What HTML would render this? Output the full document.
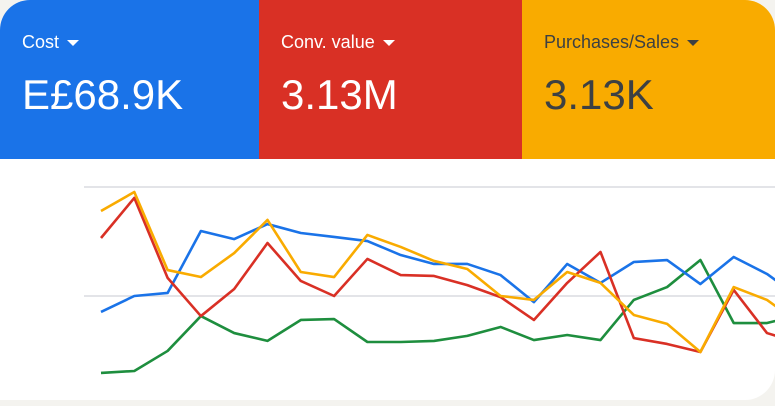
<!DOCTYPE html>
<html><head><meta charset="utf-8"><style>
body{margin:0;width:775px;height:406px;background:#f4f3ef;overflow:hidden;font-family:"Liberation Sans",sans-serif}
#card{position:absolute;left:0;top:0;width:775px;height:400px;background:#fff;border-radius:30px 30px 30px 0;overflow:hidden}
.tile{position:absolute;top:0;height:159px}
.lab{position:absolute;left:22px;top:32px;font-size:18px}
.val{position:absolute;left:22px;top:71px;font-size:42px}
.arr{display:inline-block;width:0;height:0;border-left:6px solid transparent;border-right:6px solid transparent;border-top:6px solid currentColor;margin-left:8px;vertical-align:middle}
</style></head><body>
<div id="card">
<div class="tile" style="left:0;width:259px;background:#1a73e8;color:#fff"><div class="lab">Cost<span class="arr"></span></div><div class="val">E£68.9K</div></div>
<div class="tile" style="left:259px;width:263px;background:#d93025;color:#fff"><div class="lab">Conv. value<span class="arr"></span></div><div class="val">3.13M</div></div>
<div class="tile" style="left:522px;width:253px;background:#f9ab00;color:#3c4043"><div class="lab">Purchases/Sales<span class="arr"></span></div><div class="val">3.13K</div></div>
<svg id="chart" width="775" height="400" style="position:absolute;left:0;top:0"></svg>
</div>
<script>
const gridValues=[50,100];
const blue=[42.7,50,51.4,79.8,76.1,83.0,78.9,77.1,75.2,68.8,64.7,64.7,59.6,47.2,64.7,56.0,65.6,66.5,55.5,67.9,60.1,49.1];
const yellow=[89.0,97.7,61.9,58.7,69.7,84.9,61.0,58.7,78.0,72.5,66.1,62.4,50,48.2,61.0,56.0,41.3,37.2,24.3,54.1,48.2,37.2];
const red=[76.6,95.0,58.3,40.8,53.2,74.3,56.9,50,67.0,59.6,59.2,55.0,49.5,39.0,56.0,70.2,30.7,28.0,24.3,52.8,33.0,28.4];
const green=[14.7,15.6,24.8,40.8,33.0,29.4,39.0,39.4,28.9,28.9,29.4,31.7,35.8,29.8,32.1,29.8,48.2,54.1,66.5,37.6,37.6,41.3];
const NS="http://www.w3.org/2000/svg";
const svg=document.getElementById('chart');
const x=i=>101+i*33.3;
const y=v=>296-(v-50)*2.18;
gridValues.forEach(g=>{const l=document.createElementNS(NS,'line');
l.setAttribute('x1',84);l.setAttribute('x2',775);l.setAttribute('y1',y(g));l.setAttribute('y2',y(g));
l.setAttribute('stroke','#dadce0');l.setAttribute('stroke-width','1.5');


svg.appendChild(l);});
[[green,'#1e8e3e','green-series'],[blue,'#1a73e8','cost-series'],[red,'#d93025','conv-value-series'],[yellow,'#f9ab00','purchases-series']].forEach(([d,c,n])=>{
const p=document.createElementNS(NS,'polyline');
p.setAttribute('points',d.map((v,i)=>x(i)+','+y(v)).join(' '));
p.setAttribute('fill','none');p.setAttribute('stroke',c);p.setAttribute('stroke-width','2.6');p.setAttribute('stroke-linejoin','round');


svg.appendChild(p);});
</script>
</body></html>
